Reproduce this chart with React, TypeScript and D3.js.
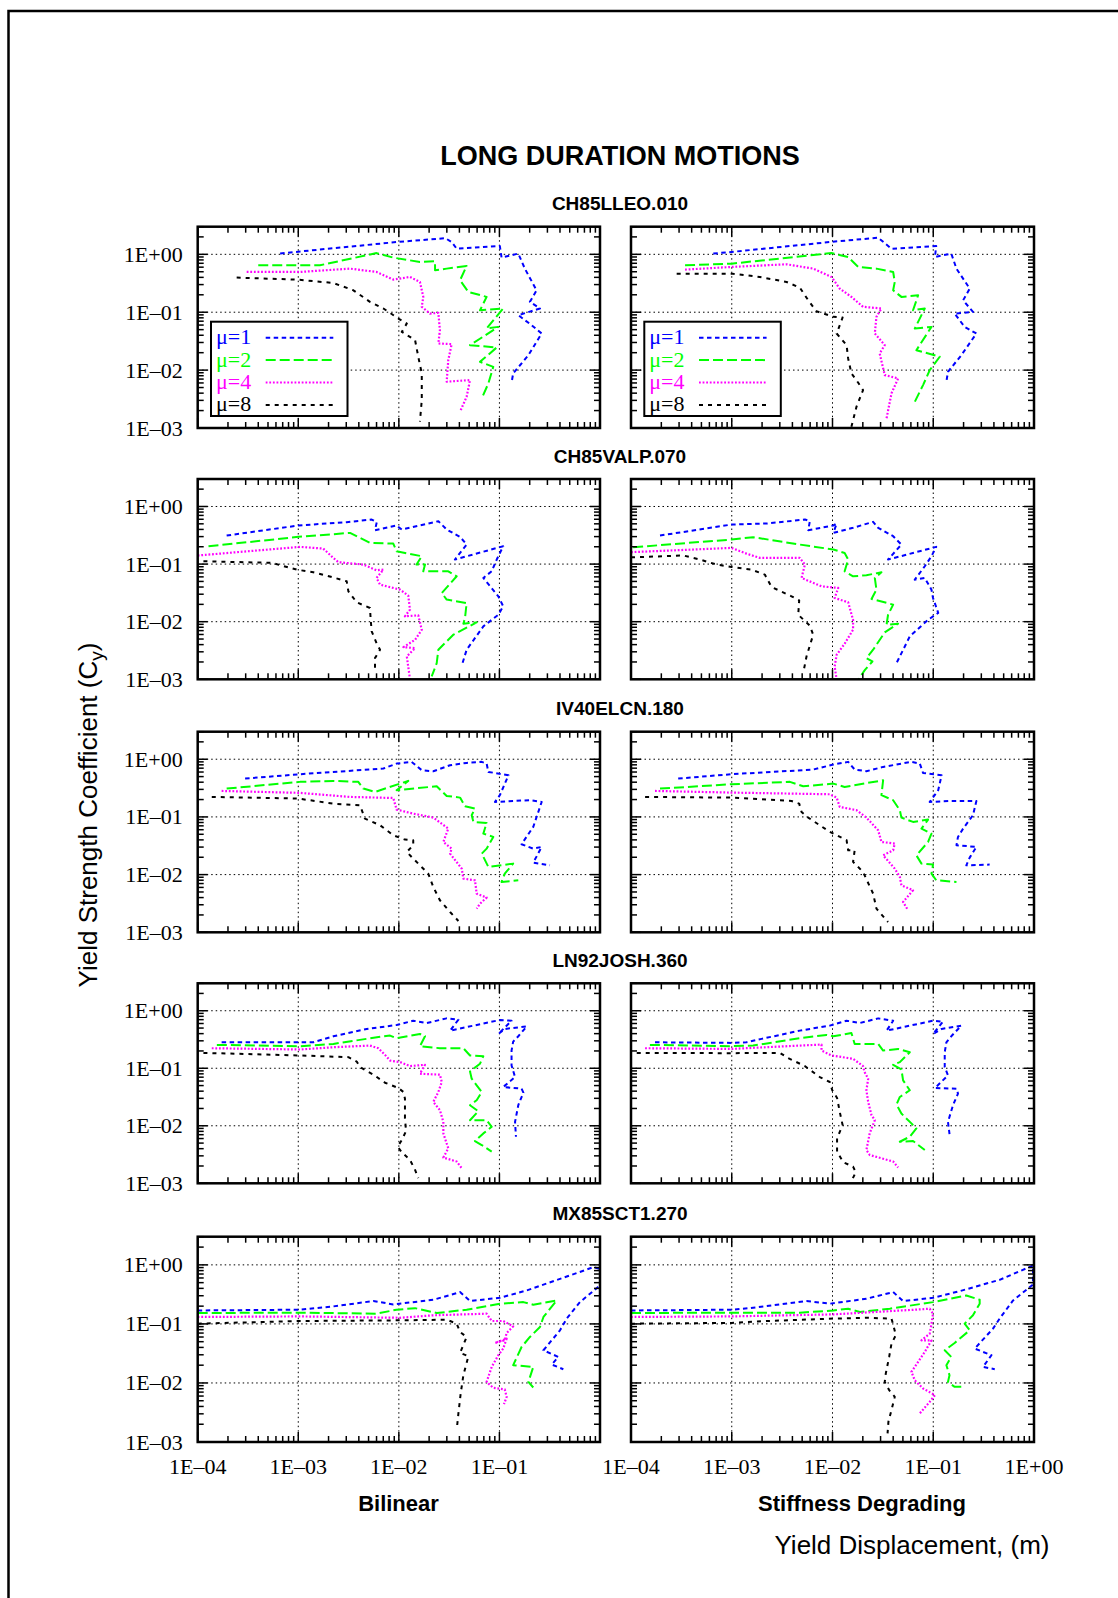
import React from "react";
import * as d3 from "d3";

type Pt = [number, number];

// Series order in every panel: μ=1, μ=2, μ=4, μ=8
const SERIES_LABELS = ["μ=1", "μ=2", "μ=4", "μ=8"];
const SERIES_COLORS = ["#0000ff", "#00ff00", "#ff00ff", "#000000"];
const SERIES_DASH = ["4.5 3.5", "10 4", "1.8 1.8", "4 5"];

const RECORD_NAMES = ["CH85LLEO.010", "CH85VALP.070", "IV40ELCN.180", "LN92JOSH.360", "MX85SCT1.270"];
const MODEL_NAMES = ["Bilinear", "Stiffness Degrading"];

const X_TICKS = [1e-4, 1e-3, 1e-2, 1e-1, 1];
const X_TICK_LABELS = ["1E–04", "1E–03", "1E–02", "1E–01", "1E+00"];
const Y_TICKS = [1, 1e-1, 1e-2, 1e-3];
const Y_TICK_LABELS = ["1E+00", "1E–01", "1E–02", "1E–03"];

// [yield displacement (m), yield strength coefficient]
const ch85lleoBilinear: Pt[][] = [
  [[6.6e-4,1.03],[1.05e-3,1.12],[9.5e-3,1.63],[2.9e-2,1.9],[3.35e-2,1.63],[3.76e-2,1.25],[0.101,1.39],[0.105,0.877],[0.154,1.03],[0.179,0.566],[0.234,0.239],[0.201,0.151],[0.253,0.116],[0.154,0.0888],[0.209,0.0597],[0.263,0.0429],[0.194,0.0181],[0.137,0.00877],[0.132,0.00605]],
  [[4.0e-4,0.646],[1.64e-3,0.646],[6.0e-3,1.05],[8.8e-3,0.877],[1.62e-2,0.738],[2.29e-2,0.757],[2.29e-2,0.53],[2.99e-2,0.566],[4.72e-2,0.629],[4.06e-2,0.356],[4.91e-2,0.224],[7.46e-2,0.184],[6.41e-2,0.108],[0.109,0.116],[7.46e-2,0.0523],[0.0975,0.0558],[0.051,0.027],[0.094,0.0246],[6.41e-2,0.0139],[0.0869,0.0114],[0.0776,0.00589],[0.0667,0.00325]],
  [[3.07e-4,0.496],[1.04e-3,0.496],[3.27e-3,0.566],[6.0e-3,0.496],[8.8e-3,0.366],[1.29e-2,0.407],[1.62e-2,0.333],[1.75e-2,0.184],[1.69e-2,0.124],[2.04e-2,0.0948],[2.47e-2,0.0975],[2.56e-2,0.049],[2.47e-2,0.0288],[3.35e-2,0.0281],[3.1e-2,0.0149],[2.99e-2,0.0063],[5.1e-2,0.00673],[4.72e-2,0.00347],[4.06e-2,0.00191]],
  [[2.44e-4,0.396],[9.64e-4,0.366],[2.23e-3,0.32],[3.53e-3,0.239],[5.16e-3,0.151],[7.02e-3,0.116],[9.89e-3,0.0778],[1.2e-2,0.0638],[1.07e-2,0.0458],[1.45e-2,0.0329],[1.56e-2,0.017],[1.69e-2,0.00877],[1.69e-2,0.00304],[1.62e-2,0.00129]],
];

const ch85lleoDegrading: Pt[][] = [
  [[6.56e-4,1.03],[1.0e-3,1.1],[9.4e-3,1.63],[2.84e-2,1.94],[3.85e-2,1.25],[0.107,1.39],[0.104,0.9],[0.151,1.03],[0.17,0.566],[0.23,0.256],[0.198,0.161],[0.248,0.101],[0.163,0.0948],[0.205,0.0558],[0.268,0.0429],[0.19,0.0181],[0.14,0.00936],[0.135,0.0063]],
  [[3.44e-4,0.646],[9.95e-4,0.69],[9.77e-3,1.05],[1.43e-2,0.9],[1.8e-2,0.605],[2.73e-2,0.566],[4.0e-2,0.496],[4.15e-2,0.333],[4.0e-2,0.239],[4.83e-2,0.184],[7.08e-2,0.196],[6.3e-2,0.108],[8.24e-2,0.116],[6.56e-2,0.0523],[9.6e-2,0.0558],[6.8e-2,0.0221],[0.116,0.017],[0.0923,0.01],[0.0792,0.00551],[0.0656,0.00284]],
  [[3.44e-4,0.544],[9.95e-4,0.605],[3.5e-3,0.673],[6.43e-3,0.566],[9.77e-3,0.407],[1.18e-2,0.256],[1.54e-2,0.184],[2.01e-2,0.124],[3.06e-2,0.116],[2.73e-2,0.0832],[2.63e-2,0.0429],[3.3e-2,0.027],[2.94e-2,0.0194],[3.3e-2,0.0082],[4.48e-2,0.00718],[3.85e-2,0.00396],[3.44e-2,0.00147]],
  [[2.84e-4,0.464],[9.95e-4,0.464],[1.9e-3,0.407],[3.5e-3,0.333],[4.74e-3,0.266],[5.74e-3,0.161],[6.93e-3,0.104],[1.02e-2,0.0832],[1.26e-2,0.081],[1.1e-2,0.0429],[1.38e-2,0.027],[1.43e-2,0.0159],[1.54e-2,0.00877],[1.8e-2,0.00605],[2.01e-2,0.00452],[1.73e-2,0.00233],[1.54e-2,0.00105]],
];

const ch85valpBilinear: Pt[][] = [
  [[1.94e-4,0.313],[1.0e-3,0.468],[3.03e-3,0.534],[5.37e-3,0.594],[6.03e-3,0.534],[5.79e-3,0.388],[9.5e-3,0.468],[1.07e-2,0.398],[2.47e-2,0.556],[2.99e-2,0.398],[4.06e-2,0.297],[4.72e-2,0.218],[3.61e-2,0.12],[0.109,0.204],[0.094,0.12],[0.0838,0.075],[0.0692,0.0574],[0.0975,0.0276],[0.109,0.0185],[0.0975,0.0132],[0.0692,0.0083],[4.72e-2,0.00326],[4.22e-2,0.00172]],
  [[1.28e-4,0.204],[1.0e-3,0.297],[3.27e-3,0.348],[4.11e-3,0.285],[5.16e-3,0.233],[8.8e-3,0.227],[9.5e-3,0.167],[1.69e-2,0.137],[1.5e-2,0.098],[1.82e-2,0.098],[1.75e-2,0.075],[3.1e-2,0.075],[3.76e-2,0.0614],[2.67e-2,0.0315],[2.99e-2,0.0242],[4.72e-2,0.0211],[4.55e-2,0.0116],[4.38e-2,0.00923],[5.94e-2,0.00973],[3.48e-2,0.00594],[2.47e-2,0.00326],[2.38e-2,0.00191],[2.12e-2,0.00112]],
  [[1.0e-4,0.141],[1.04e-3,0.199],[1.77e-3,0.186],[2.23e-3,0.128],[2.5e-3,0.108],[4.44e-3,0.098],[6.0e-3,0.0781],[7.02e-3,0.0802],[6.0e-3,0.0574],[6.5e-3,0.044],[1.03e-2,0.036],[1.24e-2,0.0283],[1.29e-2,0.0162],[1.15e-2,0.0124],[1.56e-2,0.0129],[1.69e-2,0.00726],[1.45e-2,0.00486],[1.11e-2,0.00362],[1.45e-2,0.00348],[1.2e-2,0.00249],[1.29e-2,0.00101]],
  [[1.14e-4,0.112],[5.45e-4,0.105],[9.64e-4,0.0802],[1.41e-3,0.0721],[1.92e-3,0.0631],[3.03e-3,0.0502],[3.15e-3,0.0337],[3.81e-3,0.0217],[5.16e-3,0.0173],[5.25e-3,0.0108],[5.37e-3,0.00679],[6.0e-3,0.00426],[6.5e-3,0.00326],[5.79e-3,0.00233],[5.79e-3,0.00146]],
];

const ch85valpDegrading: Pt[][] = [
  [[1.94e-4,0.313],[9.95e-4,0.486],[2.21e-3,0.506],[5.32e-3,0.594],[5.96e-3,0.556],[5.74e-3,0.388],[1.02e-2,0.468],[1.1e-2,0.506],[1.02e-2,0.348],[1.6e-2,0.426],[2.53e-2,0.541],[2.84e-2,0.426],[4.0e-2,0.305],[4.83e-2,0.218],[3.56e-2,0.12],[0.107,0.199],[0.096,0.137],[0.0824,0.0917],[0.0656,0.0537],[0.0824,0.0574],[0.096,0.036],[0.0995,0.0258],[0.112,0.0142],[0.0889,0.0108],[0.0585,0.00556],[0.0432,0.00191]],
  [[1.05e-4,0.196],[9.95e-4,0.267],[1.63e-3,0.293],[4.74e-3,0.218],[1.02e-2,0.179],[1.32e-2,0.156],[1.43e-2,0.12],[1.32e-2,0.075],[1.6e-2,0.0614],[2.17e-2,0.064],[3.06e-2,0.0721],[2.63e-2,0.0574],[2.73e-2,0.036],[2.44e-2,0.0248],[4.0e-2,0.0198],[3.56e-2,0.0132],[3.44e-2,0.00887],[4.48e-2,0.00923],[3.3e-2,0.00652],[2.53e-2,0.00326],[2.17e-2,0.00233],[2.49e-2,0.00204],[2.1e-2,0.00146],[1.8e-2,0.00098]],
  [[1.0e-4,0.161],[9.95e-4,0.191],[1.4e-3,0.152],[1.9e-3,0.128],[4.74e-3,0.128],[5.32e-3,0.098],[4.93e-3,0.0574],[7.78e-3,0.0411],[1.14e-2,0.0385],[1.05e-2,0.0258],[1.43e-2,0.0217],[1.6e-2,0.0108],[1.6e-2,0.00726],[1.32e-2,0.00414],[1.1e-2,0.00267],[1.05e-2,0.00167],[1.1e-2,0.00098]],
  [[1.0e-4,0.131],[3.3e-4,0.141],[4.83e-4,0.12],[7.08e-4,0.098],[9.95e-4,0.0893],[1.57e-3,0.0802],[2.13e-3,0.0657],[2.48e-3,0.0401],[3.92e-3,0.0276],[4.67e-3,0.0235],[4.57e-3,0.0132],[5.96e-3,0.00851],[6.43e-3,0.00594],[5.52e-3,0.00249],[5.12e-3,0.00128]],
];

const iv40elcnBilinear: Pt[][] = [
  [[2.96e-4,0.462],[1.04e-3,0.55],[7.02e-3,0.689],[9.5e-3,0.841],[1.34e-2,0.9],[1.69e-2,0.644],[2.2e-2,0.619],[3.23e-2,0.787],[4.72e-2,0.864],[6.67e-2,0.9],[7.46e-2,0.841],[7.76e-2,0.603],[0.123,0.528],[0.101,0.238],[0.0904,0.182],[0.201,0.195],[0.263,0.182],[0.217,0.0671],[0.166,0.0336],[0.217,0.0282],[0.263,0.0302],[0.217,0.0161],[0.318,0.0145]],
  [[1.94e-4,0.31],[1.04e-3,0.405],[2.23e-3,0.421],[3.95e-3,0.405],[4.44e-3,0.31],[5.79e-3,0.271],[1.24e-2,0.421],[9.5e-3,0.29],[2.38e-2,0.34],[2.99e-2,0.231],[4.06e-2,0.216],[4.55e-2,0.153],[5.71e-2,0.14],[5.3e-2,0.107],[5.51e-2,0.0819],[7.46e-2,0.0787],[6.92e-2,0.0514],[8.69e-2,0.045],[7.46e-2,0.0282],[6.67e-2,0.0231],[7.76e-2,0.0136],[0.137,0.0155],[0.113,0.0104],[0.105,0.00746],[0.154,0.00798]],
  [[1.73e-4,0.282],[1.04e-3,0.261],[3.27e-3,0.222],[8.8e-3,0.213],[9.5e-3,0.134],[1.39e-2,0.114],[2.2e-2,0.0973],[3.1e-2,0.0628],[2.77e-2,0.0368],[3.35e-2,0.0282],[3.23e-2,0.0231],[4.22e-2,0.0127],[4.38e-2,0.00853],[5.71e-2,0.00798],[5.94e-2,0.00468],[7.46e-2,0.00399],[6.41e-2,0.00314],[5.94e-2,0.00257]],
  [[1.38e-4,0.222],[1.0e-3,0.208],[2.23e-3,0.17],[4.11e-3,0.159],[4.6e-3,0.0935],[6.5e-3,0.0717],[8.8e-3,0.0481],[1.15e-2,0.0405],[1.39e-2,0.0394],[1.39e-2,0.0323],[1.2e-2,0.0247],[1.34e-2,0.0202],[1.96e-2,0.0104],[2.2e-2,0.00611],[2.56e-2,0.00359],[3.23e-2,0.00225],[3.91e-2,0.00157]],
];

const iv40elcnDegrading: Pt[][] = [
  [[2.94e-4,0.462],[9.95e-4,0.55],[6.43e-3,0.662],[1.02e-2,0.809],[1.43e-2,0.9],[1.66e-2,0.662],[2.17e-2,0.619],[3.18e-2,0.736],[6.07e-2,0.9],[7.35e-2,0.841],[7.92e-2,0.579],[0.121,0.528],[0.112,0.29],[0.0923,0.182],[0.146,0.189],[0.268,0.189],[0.248,0.107],[0.198,0.0628],[0.176,0.045],[0.17,0.0323],[0.268,0.0302],[0.23,0.0197],[0.213,0.0145],[0.363,0.0149]],
  [[1.94e-4,0.31],[9.95e-4,0.368],[3.78e-3,0.405],[5.12e-3,0.34],[1.02e-2,0.378],[1.32e-2,0.331],[3.18e-2,0.432],[3.06e-2,0.238],[4.0e-2,0.195],[4.66e-2,0.131],[4.83e-2,0.0973],[6.3e-2,0.0819],[8.89e-2,0.0899],[7.64e-2,0.0628],[9.6e-2,0.0514],[8.89e-2,0.0368],[6.8e-2,0.0216],[7.64e-2,0.0155],[0.0995,0.0149],[9.6e-2,0.0104],[0.107,0.00798],[0.17,0.00746]],
  [[1.73e-4,0.282],[9.95e-4,0.264],[9.4e-3,0.247],[1.1e-2,0.216],[1.18e-2,0.149],[1.73e-2,0.131],[2.17e-2,0.0973],[2.84e-2,0.0587],[3.06e-2,0.0368],[4.15e-2,0.0345],[4.0e-2,0.0264],[3.18e-2,0.0216],[4.15e-2,0.0127],[4.66e-2,0.00912],[4.83e-2,0.00653],[6.3e-2,0.00535],[5.02e-2,0.00336],[5.62e-2,0.00241]],
  [[1.38e-4,0.222],[9.95e-4,0.216],[3.92e-3,0.189],[4.67e-3,0.17],[4.93e-3,0.122],[5.74e-3,0.0973],[9.4e-3,0.055],[1.38e-2,0.0394],[1.43e-2,0.0264],[1.66e-2,0.0264],[1.6e-2,0.0166],[2.01e-2,0.0111],[2.53e-2,0.00469],[2.73e-2,0.00257],[3.56e-2,0.00151]],
];

const ln92joshBilinear: Pt[][] = [
  [[1.73e-4,0.283],[1.41e-3,0.283],[2.23e-3,0.36],[4.79e-3,0.482],[9.5e-3,0.565],[1.39e-2,0.671],[1.89e-2,0.612],[2.99e-2,0.737],[3.91e-2,0.698],[3.23e-2,0.451],[0.101,0.69],[0.132,0.671],[0.0975,0.395],[0.113,0.482],[0.187,0.536],[0.154,0.36],[0.137,0.291],[0.132,0.203],[0.132,0.112],[0.143,0.0703],[0.109,0.0472],[0.166,0.0442],[0.173,0.0377],[0.154,0.0228],[0.143,0.0117],[0.146,0.00646]],
  [[1.55e-4,0.255],[1.04e-3,0.242],[2.23e-3,0.265],[7.02e-3,0.36],[8.17e-3,0.37],[9.5e-3,0.333],[1.62e-2,0.395],[1.82e-2,0.36],[1.62e-2,0.242],[2.56e-2,0.223],[4.38e-2,0.223],[5.1e-2,0.167],[6.92e-2,0.162],[6.41e-2,0.12],[5.1e-2,0.0881],[5.3e-2,0.0658],[5.94e-2,0.0505],[6.67e-2,0.0387],[5.94e-2,0.0278],[5.1e-2,0.0228],[6.17e-2,0.0179],[5.1e-2,0.0125],[7.46e-2,0.0125],[8.38e-2,0.00961],[6.92e-2,0.00737],[5.71e-2,0.00543],[6.67e-2,0.00463],[8.38e-2,0.00355]],
  [[1.38e-4,0.223],[1.04e-3,0.212],[2.23e-3,0.232],[5.16e-3,0.248],[6.25e-3,0.223],[7.28e-3,0.171],[8.17e-3,0.136],[1.03e-2,0.128],[1.29e-2,0.109],[1.82e-2,0.115],[1.62e-2,0.0804],[2.56e-2,0.0773],[2.67e-2,0.0577],[2.47e-2,0.0387],[2.2e-2,0.026],[2.56e-2,0.0187],[2.77e-2,0.0117],[2.77e-2,0.00737],[3.1e-2,0.00406],[2.77e-2,0.0028],[3.76e-2,0.00239],[4.22e-2,0.00183]],
  [[1.14e-4,0.185],[1.04e-3,0.167],[3.15e-3,0.156],[3.81e-3,0.131],[4.11e-3,0.105],[5.59e-3,0.0773],[7.28e-3,0.0561],[9.89e-3,0.0454],[1.11e-2,0.0387],[1.15e-2,0.0297],[1.15e-2,0.0134],[1.18e-2,0.00809],[1.07e-2,0.00565],[9.73e-3,0.00434],[1.07e-2,0.00346],[1.29e-2,0.00255],[1.45e-2,0.00171],[1.56e-2,0.00123]],
];

const ln92joshDegrading: Pt[][] = [
  [[1.73e-4,0.283],[9.95e-4,0.276],[1.4e-3,0.283],[1.98e-3,0.324],[4.74e-3,0.451],[9.4e-3,0.551],[1.38e-2,0.671],[1.87e-2,0.612],[2.84e-2,0.737],[4.0e-2,0.671],[3.44e-2,0.451],[0.0995,0.671],[0.125,0.646],[0.0995,0.395],[0.121,0.482],[0.19,0.551],[0.151,0.36],[0.135,0.283],[0.13,0.19],[0.13,0.105],[0.14,0.0752],[0.104,0.0454],[0.17,0.0442],[0.176,0.0362],[0.157,0.0228],[0.14,0.0117],[0.145,0.00718]],
  [[1.54e-4,0.255],[9.95e-4,0.242],[1.63e-3,0.248],[4.74e-3,0.333],[8.71e-3,0.38],[1.02e-2,0.36],[1.54e-2,0.411],[1.66e-2,0.265],[2.84e-2,0.265],[3.18e-2,0.203],[4.48e-2,0.217],[5.85e-2,0.19],[4.66e-2,0.128],[4.0e-2,0.115],[4.83e-2,0.0955],[5.02e-2,0.0617],[5.85e-2,0.0414],[4.66e-2,0.0317],[4.32e-2,0.0234],[4.83e-2,0.0163],[6.07e-2,0.011],[6.8e-2,0.00899],[5.85e-2,0.00646],[4.66e-2,0.00528],[6.3e-2,0.00543],[8.24e-2,0.00379]],
  [[1.38e-4,0.223],[9.95e-4,0.217],[4.74e-3,0.248],[7.78e-3,0.258],[7.78e-3,0.203],[9.77e-3,0.167],[1.6e-2,0.146],[2.01e-2,0.109],[2.08e-2,0.0859],[2.26e-2,0.0658],[2.17e-2,0.0414],[2.26e-2,0.026],[2.44e-2,0.0153],[2.63e-2,0.0125],[2.34e-2,0.00737],[2.17e-2,0.00379],[2.34e-2,0.00311],[3.06e-2,0.00272],[4.0e-2,0.00239],[4.48e-2,0.00188]],
  [[1.14e-4,0.185],[9.95e-4,0.183],[3.01e-3,0.185],[3.63e-3,0.15],[5.32e-3,0.109],[7.48e-3,0.0703],[9.4e-3,0.0577],[9.95e-3,0.0414],[1.11e-2,0.0305],[1.18e-2,0.0175],[1.26e-2,0.0103],[1.11e-2,0.00604],[1.11e-2,0.00355],[1.28e-2,0.00232],[1.6e-2,0.00195],[1.7e-2,0.00156],[1.54e-2,0.00108]],
];

const mx85sct1Bilinear: Pt[][] = [
  [[1.0e-4,0.169],[1.04e-3,0.174],[2.23e-3,0.198],[5.57e-3,0.244],[8.8e-3,0.214],[2.2e-2,0.256],[4.06e-2,0.346],[5.1e-2,0.244],[0.101,0.277],[0.187,0.369],[0.467,0.635],[0.859,0.914],[1.0,0.856],[1.0,0.448],[0.632,0.234],[0.467,0.123],[0.4,0.0779],[0.274,0.0358],[0.385,0.0276],[0.331,0.0205],[0.432,0.0171]],
  [[1.0e-4,0.153],[1.04e-3,0.155],[6.0e-3,0.149],[9.5e-3,0.174],[1.45e-2,0.185],[2.38e-2,0.153],[4.72e-2,0.174],[0.101,0.22],[0.173,0.234],[0.217,0.211],[0.371,0.25],[0.274,0.131],[0.253,0.0887],[0.201,0.0601],[0.166,0.0407],[0.137,0.02],[0.217,0.0187],[0.194,0.0104],[0.217,0.00838]],
  [[1.0e-4,0.131],[1.04e-3,0.134],[1.03e-2,0.127],[2.2e-2,0.14],[7.46e-2,0.149],[8.38e-2,0.112],[0.109,0.112],[0.137,0.091],[0.118,0.0702],[0.113,0.0528],[0.0904,0.0476],[0.118,0.0563],[0.109,0.0382],[0.0975,0.0295],[8.38e-2,0.0187],[7.46e-2,0.0104],[8.69e-2,0.00828],[0.113,0.00776],[0.118,0.00583],[0.111,0.00439]],
  [[1.0e-4,0.101],[1.04e-3,0.112],[1.03e-2,0.115],[2.99e-2,0.118],[3.76e-2,0.101],[4.06e-2,0.073],[4.72e-2,0.0601],[4.06e-2,0.0323],[4.91e-2,0.0283],[4.38e-2,0.0135],[4.12e-2,0.00664],[3.91e-2,0.00305],[3.76e-2,0.0016]],
];

const mx85sct1Degrading: Pt[][] = [
  [[1.0e-4,0.169],[9.95e-4,0.174],[1.51e-3,0.185],[5.52e-3,0.244],[9.4e-3,0.22],[2.17e-2,0.267],[4.0e-2,0.346],[5.02e-2,0.244],[9.95e-2,0.277],[0.183,0.359],[0.456,0.558],[0.977,0.975],[0.977,0.466],[0.62,0.25],[0.456,0.123],[0.392,0.0832],[0.258,0.0382],[0.378,0.0295],[0.312,0.0187],[0.408,0.0171]],
  [[1.0e-4,0.153],[9.95e-4,0.155],[4.74e-3,0.155],[1.02e-2,0.169],[1.43e-2,0.181],[1.87e-2,0.159],[3.71e-2,0.181],[9.95e-2,0.234],[0.213,0.303],[0.289,0.256],[0.289,0.22],[0.248,0.14],[0.205,0.101],[0.23,0.0779],[0.163,0.0476],[0.13,0.0358],[0.151,0.0276],[0.135,0.02],[0.145,0.0135],[0.14,0.0104],[0.163,0.0086],[0.205,0.0086]],
  [[1.0e-4,0.131],[9.95e-4,0.134],[1.02e-2,0.145],[7.35e-2,0.176],[9.23e-2,0.181],[9.95e-2,0.149],[9.6e-2,0.101],[9.23e-2,0.0684],[7.64e-2,0.0528],[9.6e-2,0.0528],[8.24e-2,0.0336],[7.08e-2,0.0228],[6.07e-2,0.0154],[6.56e-2,0.0111],[7.92e-2,0.00807],[0.104,0.00622],[9.23e-2,0.0048],[7.35e-2,0.00305]],
  [[1.0e-4,0.101],[9.95e-4,0.104],[2.21e-3,0.112],[1.02e-2,0.123],[2.17e-2,0.127],[3.85e-2,0.123],[4.06e-2,0.0887],[4.25e-2,0.0642],[3.85e-2,0.0464],[3.65e-2,0.0276],[3.38e-2,0.0145],[3.3e-2,0.0104],[3.65e-2,0.00757],[4.15e-2,0.00583],[3.85e-2,0.00348],[3.59e-2,0.00221],[3.52e-2,0.0014]],
];

const PANEL_DATA: Pt[][][][] = [
  [ch85lleoBilinear, ch85lleoDegrading],
  [ch85valpBilinear, ch85valpDegrading],
  [iv40elcnBilinear, iv40elcnDegrading],
  [ln92joshBilinear, ln92joshDegrading],
  [mx85sct1Bilinear, mx85sct1Degrading],
];

// Layout (pixels)
const COLS: [number, number][] = [[197.7, 600], [631, 1034]];
const ROWS: [number, number][] = [[226.7, 428], [479, 679.3], [731.7, 932.3], [983.3, 1183.3], [1236.7, 1442]];

const SERIF = "'Liberation Serif', 'Times New Roman', Times, serif";
const SANS = "'Liberation Sans', Arial, Helvetica, sans-serif";

const isDecade = (v: number) => Math.abs(Math.log10(v) - Math.round(Math.log10(v))) < 1e-6;

function Panel(props: {
  id: string; x0: number; x1: number; y0: number; y1: number;
  data: Pt[][]; yLabels: boolean; xLabelCount: number; legend: boolean;
}) {
  const { id, x0, x1, y0, y1, data, yLabels, xLabelCount, legend } = props;
  const x = d3.scaleLog().domain([1e-4, 1]).range([x0, x1]);
  const y = d3.scaleLog().domain([1e-3, 3]).range([y1, y0]);
  const line = d3.line<Pt>().x((d) => x(d[0])).y((d) => y(d[1]));
  const xt = x.ticks();
  const yt = y.ticks();
  const major = 10;
  const minor = 6;

  const lx = x0 + 13.3;
  const ly = y0 + 95;

  return (
    <g>
      <defs>
        <clipPath id={`clip-${id}`}>
          <rect x={x0} y={y0} width={x1 - x0} height={y1 - y0} />
        </clipPath>
      </defs>
      {/* dotted decade grid */}
      {X_TICKS.filter((v) => v > 1e-4 && v < 1).map((v) => (
        <line key={`gx${v}`} x1={x(v)} x2={x(v)} y1={y0} y2={y1} stroke="#000" strokeWidth={1} strokeDasharray="1.5 3" />
      ))}
      {Y_TICKS.filter((v) => v > 1e-3).map((v) => (
        <line key={`gy${v}`} x1={x0} x2={x1} y1={y(v)} y2={y(v)} stroke="#000" strokeWidth={1} strokeDasharray="1.5 3" />
      ))}
      {/* curves */}
      <g clipPath={`url(#clip-${id})`}>
        {data.map((s, i) => (
          <path key={i} d={line(s) || ""} fill="none" stroke={SERIES_COLORS[i]} strokeWidth={i === 2 ? 2.2 : 2}
            strokeDasharray={SERIES_DASH[i]} strokeLinejoin="round" />
        ))}
      </g>
      {/* legend */}
      {legend && (
        <g>
          <rect x={lx} y={ly} width={136.5} height={94.3} fill="#fff" stroke="#000" strokeWidth={2} />
          {SERIES_LABELS.map((lab, i) => {
            const cy = ly + 15 + i * 22.4;
            return (
              <g key={lab}>
                <text x={lx + 5} y={cy} dominantBaseline="central" fontFamily={SERIF} fontSize={22} fill={SERIES_COLORS[i]}>{lab}</text>
                <line x1={lx + 54.7} x2={lx + 122.3} y1={cy + 1} y2={cy + 1} stroke={SERIES_COLORS[i]} strokeWidth={i === 2 ? 2.2 : 2} strokeDasharray={SERIES_DASH[i]} />
              </g>
            );
          })}
        </g>
      )}
      {/* ticks, inward on all four sides */}
      {xt.map((v, i) => {
        const len = isDecade(v) ? major : minor;
        const px = x(v);
        return (
          <g key={`tx${i}`}>
            <line x1={px} x2={px} y1={y1} y2={y1 - len} stroke="#000" strokeWidth={1.5} />
            <line x1={px} x2={px} y1={y0} y2={y0 + len} stroke="#000" strokeWidth={1.5} />
          </g>
        );
      })}
      {yt.map((v, i) => {
        const len = isDecade(v) ? major : minor;
        const py = y(v);
        return (
          <g key={`ty${i}`}>
            <line x1={x0} x2={x0 + len} y1={py} y2={py} stroke="#000" strokeWidth={1.5} />
            <line x1={x1} x2={x1 - len} y1={py} y2={py} stroke="#000" strokeWidth={1.5} />
          </g>
        );
      })}
      <rect x={x0} y={y0} width={x1 - x0} height={y1 - y0} fill="none" stroke="#000" strokeWidth={2.5} />
      {yLabels && Y_TICKS.map((v, i) => (
        <text key={`yl${i}`} x={x0 - 15} y={y(v)} dominantBaseline="central" textAnchor="end" fontFamily={SERIF} fontSize={22} fill="#000">
          {Y_TICK_LABELS[i]}
        </text>
      ))}
      {X_TICKS.slice(0, xLabelCount).map((v, i) => (
        <text key={`xl${i}`} x={x(v)} y={y1 + 24} dominantBaseline="central" textAnchor="middle" fontFamily={SERIF} fontSize={22} fill="#000">
          {X_TICK_LABELS[i]}
        </text>
      ))}
    </g>
  );
}

export default function App() {
  const W = 1118;
  const H = 1598;
  return (
    <svg width={W} height={H} viewBox={`0 0 ${W} ${H}`} style={{ position: "absolute", left: 0, top: 0, background: "#fff" }}>
      <rect x={0} y={0} width={W} height={H} fill="#fff" />
      <path d={`M 8.5 ${H} V 11 H ${W}`} fill="none" stroke="#000" strokeWidth={2.5} />
      <text x={620} y={156} textAnchor="middle" dominantBaseline="central" fontFamily={SANS} fontWeight="bold" fontSize={27} fill="#000">
        LONG DURATION MOTIONS
      </text>
      {RECORD_NAMES.map((name, r) => (
        <text key={name} x={620} y={ROWS[r][0] - 23} textAnchor="middle" dominantBaseline="central" fontFamily={SANS} fontWeight="bold" fontSize={19} fill="#000">
          {name}
        </text>
      ))}
      {ROWS.map((row, r) =>
        COLS.map((col, c) => (
          <Panel
            key={`${r}-${c}`}
            id={`p${r}${c}`}
            x0={col[0]} x1={col[1]} y0={row[0]} y1={row[1]}
            data={PANEL_DATA[r][c]}
            yLabels={c === 0}
            xLabelCount={r === ROWS.length - 1 ? (c === 0 ? 4 : 5) : 0}
            legend={r === 0}
          />
        ))
      )}
      <text x={398.5} y={1503} textAnchor="middle" dominantBaseline="central" fontFamily={SANS} fontWeight="bold" fontSize={22} fill="#000">
        {MODEL_NAMES[0]}
      </text>
      <text x={862} y={1503} textAnchor="middle" dominantBaseline="central" fontFamily={SANS} fontWeight="bold" fontSize={22} fill="#000">
        {MODEL_NAMES[1]}
      </text>
      <text x={912} y={1545} textAnchor="middle" dominantBaseline="central" fontFamily={SANS} fontSize={26} fill="#000">
        Yield Displacement, (m)
      </text>
      <text transform="translate(97,815) rotate(-90)" textAnchor="middle" fontFamily={SANS} fontSize={26} fill="#000">
        Yield Strength Coefficient (C<tspan dy={6} fontSize={19}>y</tspan><tspan dy={-6}>)</tspan>
      </text>
    </svg>
  );
}
